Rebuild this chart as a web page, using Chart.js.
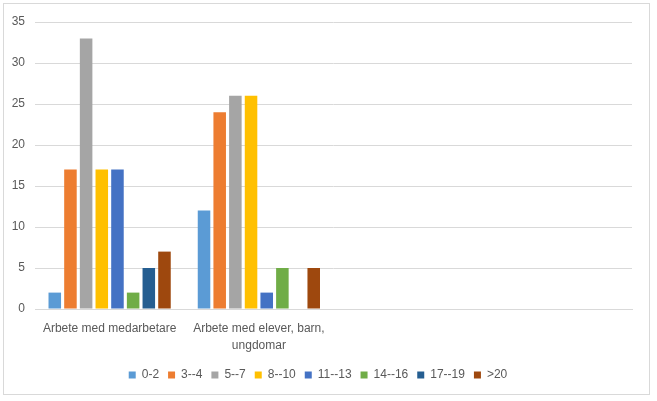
<!DOCTYPE html>
<html><head><meta charset="utf-8">
<script src="https://cdn.jsdelivr.net/npm/chart.js@4"></script>
<style>
html,body{margin:0;padding:0;background:#fff;}
#wrap{position:absolute;left:3px;top:3px;width:645px;height:390px;border:1px solid #d9d9d9;background:#fff;}
canvas{display:block;}
</style></head>
<body>
<div id="wrap"><canvas id="c" width="645" height="390"></canvas></div>
<script>
const categories = ["Arbete med medarbetare", ["Arbete med elever, barn,", "ungdomar"], "", ""];
const seriesNames = ["0-2", "3--4", "5--7", "8--10", "11--13", "14--16", "17--19", ">20"];
const s0_2   = [2, 12, null, null];
const s3_4   = [17, 24, null, null];
const s5_7   = [33, 26, null, null];
const s8_10  = [17, 26, null, null];
const s11_13 = [17, 2, null, null];
const s14_16 = [2, 5, null, null];
const s17_19 = [5, null, null, null];
const s20    = [7, 5, null, null];
const yTicks = [0, 5, 10, 15, 20, 25, 30, 35];
const colors = ["#5B9BD5", "#ED7D31", "#A5A5A5", "#FFC000", "#4472C4", "#70AD47", "#255E91", "#9E480E"];
const allSeries = [s0_2, s3_4, s5_7, s8_10, s11_13, s14_16, s17_19, s20];

const font = {family: "'Liberation Sans', Arial, sans-serif", size: 12};
new Chart(document.getElementById('c'), {
  type: 'bar',
  data: {
    labels: categories,
    datasets: allSeries.map((d, i) => ({
      label: seriesNames[i], data: d, backgroundColor: colors[i],
      categoryPercentage: 0.84, barPercentage: 0.8
    }))
  },
  options: {
    responsive: false, animation: false,
    layout: {padding: {left: 0, right: 17, top: 18, bottom: 3}},
    plugins: {
      legend: {position: 'bottom',
        labels: {boxWidth: 7, boxHeight: 7, color: '#595959', font: font, padding: 9}},
      tooltip: {enabled: false}
    },
    scales: {
      x: {
        grid: {display: false},
        border: {display: true, color: '#d9d9d9'},
        ticks: {color: '#595959', font: {family: font.family, size: 12, lineHeight: 1.4}, maxRotation: 0, autoSkip: false, padding: 3},
        afterFit: s => { s.height = 51; }
      },
      y: {
        min: 0, max: 35,
        afterBuildTicks: s => { s.ticks = yTicks.map(v => ({value: v})); },
        grid: {color: '#d9d9d9', drawTicks: false},
        border: {display: false},
        ticks: {color: '#595959', font: font, padding: 10},
        afterFit: s => { s.width = 31; }
      }
    }
  }
});
</script>
</body></html>
